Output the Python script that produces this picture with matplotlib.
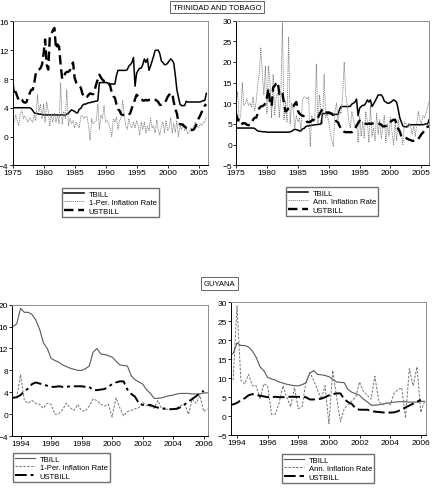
import numpy as np
import matplotlib
matplotlib.use("Agg")
import matplotlib.pyplot as plt

plt.rcParams['font.family'] = ['Liberation Sans', 'DejaVu Sans']

# ---- Trinidad and Tobago, quarterly 1975Q1 - 2006Q2
tt_start = 1975.0
tt_tbill = [4.0, 4.0, 4.0, 4.0,  4.0, 4.0, 4.0, 4.0,  4.0, 4.0, 4.0, 4.0,
            3.9, 3.6, 3.3, 3.2,  3.2, 3.1, 3.1, 3.1,  3.0, 3.0, 3.0, 3.0,
            3.0, 3.0, 3.0, 3.0,  3.0, 3.0, 3.0, 3.0,  3.0, 3.0, 3.0, 3.1,
            3.2, 3.5, 3.7, 3.6,  3.5, 3.3, 3.3, 3.8,  3.9, 4.3, 4.5, 4.5,
            4.6, 4.7, 4.7, 4.8,  4.8, 4.9, 4.9, 5.0,  7.5, 7.5, 7.5, 7.5,
            7.5, 7.5, 7.3, 7.3,  7.3, 7.3, 7.3, 8.5,  9.2, 9.2, 9.2, 9.2,
            9.2, 9.2, 9.3, 9.8,  10.0, 10.3, 11.0, 7.0,  8.8, 9.2, 9.5, 9.5,
            10.0, 10.8, 10.3, 10.8,  9.2, 9.8, 10.5, 11.2,  12.0, 12.0, 12.0, 11.5,
            10.5, 10.3, 10.0, 10.0,  10.2, 10.5, 10.8, 10.6,  10.2, 8.5, 6.5, 5.5,
            4.5, 4.3, 4.3, 4.3,  4.9, 4.8, 4.8, 4.8,  4.8, 4.8, 4.8, 4.8,
            4.8, 4.8, 4.9, 5.0,  5.0, 6.0]
tt_ustbill = [7.5, 5.8, 6.2, 5.6,  5.0, 5.2, 5.1, 4.8,  4.7, 4.8, 5.5, 6.0,
              6.5, 6.5, 7.5, 8.8,  9.2, 9.3, 9.5, 10.0,  11.5, 13.5, 10.0, 9.3,
              13.8, 14.2, 14.8, 15.1,  12.2, 12.8, 12.5, 10.0,  8.0, 8.3, 8.8, 9.0,
              9.0, 9.2, 9.8, 10.3,  8.2, 7.5, 7.2, 7.0,  6.8, 6.0, 5.5, 5.4,
              5.5, 5.8, 6.0, 5.9,  5.9, 6.5, 7.3, 8.0,  8.6, 8.2, 7.9, 7.7,
              7.8, 7.6, 7.5, 7.0,  6.1, 5.6, 5.4, 4.5,  3.8, 3.6, 3.1, 3.0,
              3.0, 3.0, 3.0, 3.0,  3.3, 4.0, 4.5, 5.2,  5.8, 5.6, 5.4, 5.3,
              5.0, 5.0, 5.1, 5.0,  5.1, 5.1, 5.1, 5.1,  5.1, 5.0, 4.8, 4.4,
              4.4, 4.5, 4.7, 5.0,  5.5, 5.8, 6.0, 6.0,  4.8, 3.8, 3.2, 2.0,
              1.7, 1.7, 1.6, 1.4,  1.2, 1.1, 0.9, 0.9,  0.9, 1.0, 1.4, 1.9,
              2.5, 2.9, 3.4, 3.8,  4.3, 4.5]
tt_infl_q = [2.5, 2.0, 3.0, 2.2,  1.5, 3.2, 3.6, 2.5,  2.8, 2.5, 2.0, 2.6,
             2.3, 2.0, 3.0, 2.2,  5.8, 3.5, 4.5, 2.5,  4.5, 2.0, 4.8, 3.5,
             1.5, 3.0, 2.0, 3.3,  2.0, 3.0, 1.8, 7.5,  1.7, 3.5, 2.5, 6.5,
             1.5, 2.5, 1.8, 2.2,  1.2, 2.0, 1.6, 1.2,  2.8, 2.9, 2.5, 2.8,
             2.8, 1.5, -0.5, 2.5,  1.8, 2.0, 2.2, 4.5,  1.0, 3.0, 2.5, 4.3,
             2.0, 2.2, 1.8, 1.2,  0.0, 2.5, 2.0, 2.7,  1.0, 2.3, 2.5, 5.0,
             3.0, 1.5, 1.0, 2.5,  1.5, 1.2, 2.0, 1.2,  2.2, 1.5, 0.2, 2.0,
             1.0, 2.0, 0.5, 1.5,  0.8, 2.5, 1.2, 1.5,  0.5, 2.3, 1.0, 0.2,
             1.5, 2.0, 0.5, 2.2,  0.8, 1.2, 2.6, 0.5,  1.8, 0.6, 2.2, 0.0,
             1.5, 1.0, 1.8, 0.8,  1.2, 0.4, 0.6, 1.2,  0.9, 1.5, 2.0, 1.5,
             1.2, 1.8, 1.5, 2.0,  2.0, 2.7]
tt_infl_a = [10.0, 12.8, 5.5, 7.0,  15.0, 9.5, 10.0, 11.0,  9.5, 10.0, 9.0, 11.5,
             8.0, 10.5, 14.5, 17.0,  23.5, 17.0, 12.0, 19.0,  7.5, 19.0, 15.0, 6.5,
             17.0, 7.0, 12.0, 12.5,  6.5, 12.0, 29.5, 6.0,  10.5, 5.5, 26.0, 5.0,
             10.0, 8.5, 4.0, 7.0,  5.5, 6.5, 3.5, 11.0,  11.5, 11.5, 11.0, 11.5,
             -0.5, 7.0, 5.5, 6.0,  19.5, 5.0, 12.0, 8.0,  5.0, 17.0, 6.5, 7.5,
             5.5, 3.0, 1.0, -0.5,  8.0, 10.0, 6.0, 8.0,  7.5, 12.0, 20.0, 12.0,
             9.5, 5.5, 4.0, 8.0,  6.0, 4.5, 5.0, 0.5,  7.0, 2.0, 5.5, 1.5,
             8.0, 5.5, 0.5, 9.5,  2.0, 4.0, 1.0, 7.5,  2.5, 6.0, 1.5, 4.5,
             7.0, 0.5, 5.0, 2.0,  6.5, 3.0, 0.0, 5.0,  1.0, 6.0, 3.0, 2.5,
             0.0, 5.5, 5.0, 4.0,  5.0, 4.5, 2.5, 4.5,  2.0, 5.0, 8.0, 6.0,
             5.0, 7.0, 6.5, 7.5,  9.0, 10.5]

# ---- Guyana, quarterly 1993Q3 - 2006Q2
gy_start = 1993.5
gy_tbill = [16.0, 16.5,  19.3, 18.6, 18.6, 18.2,  17.2, 15.5, 13.0, 12.0,
            10.2, 9.8, 9.5, 9.0,  8.7, 8.4, 8.2, 8.0,  8.0, 8.3, 8.8, 11.3,
            12.0, 11.0, 10.9, 10.7,  10.4, 9.7, 9.0, 8.9,  8.8, 7.0, 6.3, 5.9,
            5.5, 4.5, 3.8, 2.9,  2.9, 3.0, 3.2, 3.4,  3.5, 3.7, 3.8, 3.8,
            3.8, 3.7, 3.7, 3.7,  3.9, 3.9]
gy_ustbill = [3.0, 3.1,  3.5, 4.2, 4.7, 5.5,  5.8, 5.6, 5.4, 5.2,
              5.0, 5.0, 5.1, 5.0,  5.0, 5.1, 5.1, 5.1,  5.1, 5.0, 5.0, 4.4,
              4.4, 4.5, 4.6, 5.0,  5.5, 5.8, 6.0, 6.0,  4.5, 3.7, 3.2, 2.0,
              1.7, 1.7, 1.7, 1.4,  1.2, 1.1, 1.0, 0.9,  0.95, 1.0, 1.3, 1.8,
              2.3, 2.8, 3.3, 3.8,  4.3]
gy_infl_q = [3.0,  7.2, 2.5, 2.0, 2.5,  2.0, 1.8, 1.1, 2.0,
             1.8, 0.0, 0.1, 0.8,  2.0, 1.2, 0.7, 1.8,  0.6, 0.6, 1.5, 2.8,
             2.5, 1.8, 1.5, 1.8,  -0.5, 3.0, 1.2, -0.3,  0.5, 0.7, 1.0, 1.2,
             2.2, 1.6, 1.4, 1.1,  2.5, 1.0, 0.8, 1.0,  0.8, 1.2, 1.6, 1.8,
             0.0, 2.8, 2.0, 3.4,  0.5, 1.0]
gy_infl_a = [9.5,  29.0, 9.5, 8.5, 11.0,  8.0, 8.0, 4.5, 8.5,
             8.0, 0.5, 0.5, 3.5,  8.0, 5.0, 2.5, 7.5,  2.0, 2.5, 9.0, 11.5,
             9.5, 7.0, 4.5, 8.0,  -2.0, 12.0, 5.0, -1.5,  2.0, 3.0, 4.0, 5.0,
             9.0, 6.5, 5.5, 4.5,  10.5, 4.0, 3.0, 3.5,  3.0, 6.0, 7.0, 7.5,
             -0.5, 12.5, 8.0, 13.0,  1.0, 4.0]


def qdates(start, n):
    return start + 0.25*np.arange(n)


def style_ax(ax, xlim, ylim, xticks, yticks):
    ax.set_xlim(*xlim)
    ax.set_ylim(*ylim)
    ax.set_xticks(xticks)
    ax.set_yticks(yticks)
    ax.tick_params(labelsize=6, length=2, width=0.6, pad=1, direction='out')
    for s in ['top', 'right']:
        ax.spines[s].set_color('0.55')
    for s in ax.spines.values():
        s.set_linewidth(0.7)


fig = plt.figure(figsize=(4.34, 4.89), dpi=100)

leg_kw = dict(fontsize=5.5, frameon=True, fancybox=False, edgecolor='0.3',
              handlelength=2.6, borderpad=0.3, labelspacing=0.15, handletextpad=0.6,
              borderaxespad=0)

# top left
ax1 = fig.add_axes([0.029, 0.660, 0.450, 0.294])
x = qdates(tt_start, len(tt_tbill))
l1, = ax1.plot(x, tt_tbill, color='black', lw=1.1)
l2, = ax1.plot(qdates(tt_start, len(tt_infl_q)), tt_infl_q, color='0.5', lw=0.6, ls=(0, (1.5, 1)))
l3, = ax1.plot(qdates(tt_start, len(tt_ustbill)), tt_ustbill, color='black', lw=1.7, ls=(0, (4, 2)))
style_ax(ax1, (1975, 2006.5), (-4, 16), range(1975, 2006, 5), range(-4, 17, 4))
ax1.legend([l1, l2, l3], ['TBILL', '1-Per. Inflation Rate', 'USTBILL'],
           loc='upper left', bbox_to_anchor=(62/434, 1-189/489),
           bbox_transform=fig.transFigure, **leg_kw)

# top right
ax2 = fig.add_axes([0.544, 0.660, 0.444, 0.296])
m1, = ax2.plot(x, tt_tbill, color='black', lw=1.1)
m2, = ax2.plot(qdates(tt_start, len(tt_infl_a)), tt_infl_a, color='0.5', lw=0.6, ls=(0, (1.5, 1)))
m3, = ax2.plot(qdates(tt_start, len(tt_ustbill)), tt_ustbill, color='black', lw=1.7, ls=(0, (4, 2)))
style_ax(ax2, (1975, 2006.2), (-5, 30), range(1975, 2006, 5), range(-5, 31, 5))
ax2.legend([m1, m2, m3], ['TBILL', 'Ann. Inflation Rate', 'USTBILL'],
           loc='upper left', bbox_to_anchor=(286/434, 1-188/489),
           bbox_transform=fig.transFigure, **leg_kw)

# bottom left
ax3 = fig.add_axes([0.028, 0.106, 0.452, 0.269])
n1, = ax3.plot(qdates(gy_start, len(gy_tbill)), gy_tbill, color='0.35', lw=0.8)
n2, = ax3.plot(qdates(gy_start + 0.25, len(gy_infl_q)), gy_infl_q, color='0.45', lw=0.7, ls=(0, (2.5, 1.5)))
n3, = ax3.plot(qdates(gy_start, len(gy_ustbill)), gy_ustbill, color='black', lw=1.4, ls=(0, (6, 2, 1.5, 2)))
style_ax(ax3, (1993.45, 2006.3), (-4, 20), range(1994, 2007, 2), range(-4, 21, 4))
ax3.legend([n1, n2, n3], ['TBILL', '1-Per. Inflation Rate', 'USTBILL'],
           loc='upper left', bbox_to_anchor=(13/434, 1-454/489),
           bbox_transform=fig.transFigure, **leg_kw)

# bottom right
ax4 = fig.add_axes([0.532, 0.108, 0.450, 0.272])
k1, = ax4.plot(qdates(gy_start, len(gy_tbill)), gy_tbill, color='0.35', lw=0.8)
k2, = ax4.plot(qdates(gy_start + 0.25, len(gy_infl_a)), gy_infl_a, color='0.45', lw=0.7, ls=(0, (2.5, 1.5)))
k3, = ax4.plot(qdates(gy_start, len(gy_ustbill)), gy_ustbill, color='black', lw=1.4, ls=(0, (6, 2)))
style_ax(ax4, (1993.6, 2006.35), (-5, 30), range(1994, 2007, 2), range(-5, 31, 5))
ax4.legend([k1, k2, k3], ['TBILL', 'Ann. Inflation Rate', 'USTBILL'],
           loc='upper left', bbox_to_anchor=(282/434, 1-455/489),
           bbox_transform=fig.transFigure, **leg_kw)

box = dict(boxstyle='square,pad=0.35', fc='white', ec='0.3', lw=0.6)
fig.text(0.5, 1-8/489, 'TRINIDAD AND TOBAGO', ha='center', va='center', fontsize=5.5, bbox=box)
fig.text(219.5/434, 1-284.5/489, 'GUYANA', ha='center', va='center', fontsize=5.5, bbox=box)

fig.savefig('out.png', dpi=100)
